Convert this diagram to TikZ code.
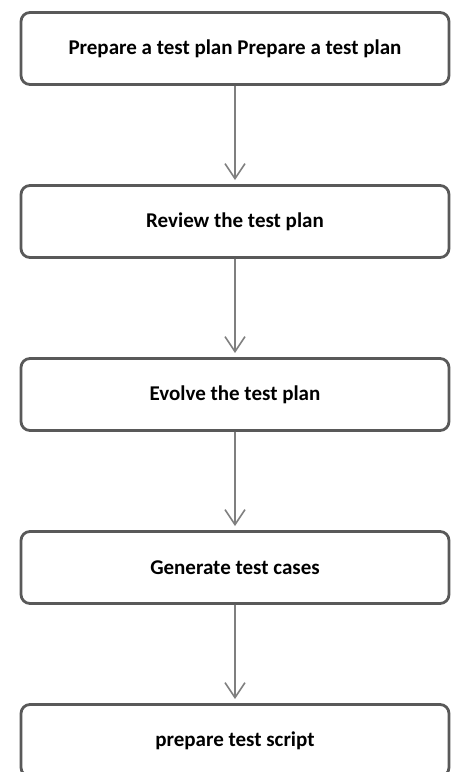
\documentclass[tikz,border=0pt]{standalone}
\usepackage{fontspec}
\setmainfont{Carlito}
\usetikzlibrary{trees, arrows.meta}
\definecolor{boxgray}{HTML}{595959}
\definecolor{arrowgray}{HTML}{7F7F7F}

\begin{document}
\begin{tikzpicture}[level distance=173pt,
  every node/.style={draw=boxgray, line width=2.8pt, rounded corners=9pt, minimum width=428pt, minimum height=72pt, font=\fontsize{21}{24}\selectfont\bfseries},
  edge from parent/.style={draw=arrowgray, line width=1.6pt, -{Straight Barb[length=15pt, width=20pt]}, shorten >=4pt}]
\useasboundingbox (-235pt,48.5pt) rectangle ++(451pt,-772pt);
\node (plan) {Prepare a test plan Prepare a test plan}
  child {node (review) {Review the test plan}
    child {node (evolve) {Evolve the test plan}
      child {node (cases) {Generate test cases}
        child {node (script) {prepare test script}}
      }
    }
  };
\end{tikzpicture}
\end{document}
